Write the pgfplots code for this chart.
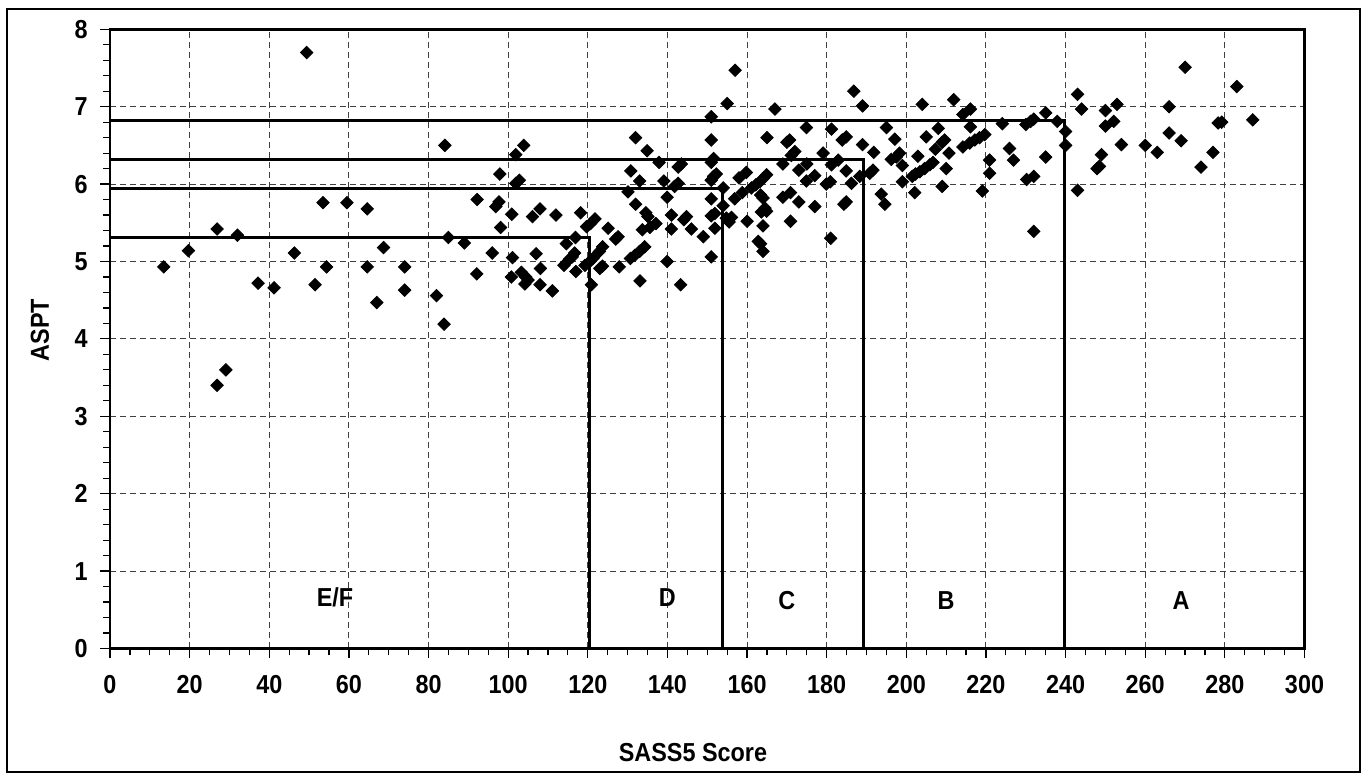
\documentclass[border=0pt]{standalone}
\usepackage{pgfplots}
\pgfplotsset{compat=1.18}
\usepackage{pgfplotstable}
\usepackage{fontspec}
\setmainfont{Liberation Sans}[FakeStretch=0.9]
\pgfplotstableread{
x y
13.5 4.93
19.7 5.14
26.9 5.42
26.9 3.40
29.1 3.60
32.0 5.34
37.2 4.72
41.2 4.66
46.3 5.11
49.4 7.70
51.5 4.70
53.5 5.76
54.4 4.93
59.5 5.76
64.6 5.68
64.6 4.93
67.0 4.47
68.7 5.18
74.0 4.93
74.0 4.63
82.0 4.56
83.9 4.19
84.1 6.50
85.0 5.31
89.0 5.24
92.1 4.84
92.2 5.80
96.0 5.11
96.9 5.71
97.7 5.77
97.9 6.13
98.1 5.44
100.9 5.61
101.1 5.05
100.8 4.80
101.9 6.38
101.9 6.01
102.8 6.05
103.9 6.50
103.3 4.86
104.4 4.80
105.0 4.76
104.2 4.71
106.1 5.58
107.0 5.10
108.0 5.68
108.1 4.91
108.0 4.70
111.1 4.62
112.0 5.60
114.0 4.95
114.6 5.23
115.4 5.03
116.1 5.06
116.7 5.11
116.9 5.31
117.0 4.87
118.2 5.63
119.3 4.95
119.7 5.45
120.5 5.00
120.7 5.49
120.9 4.70
121.3 5.04
121.8 5.55
122.9 5.13
123.7 5.19
123.0 4.91
123.7 4.94
125.1 5.43
127.0 5.29
127.6 5.32
127.9 4.93
130.1 5.90
130.7 5.04
130.8 6.17
131.8 5.08
132.0 6.60
132.0 5.74
133.0 6.04
133.0 5.13
133.1 4.75
133.7 5.41
134.3 5.19
134.6 5.63
134.9 6.43
135.1 5.58
135.6 5.44
137.1 5.49
137.9 6.28
139.1 6.04
139.9 5.83
139.9 5.00
141.0 5.60
141.0 5.42
141.8 5.97
142.7 6.01
142.7 6.22
143.5 6.26
143.3 4.70
144.1 5.54
144.8 5.58
146.0 5.42
149.0 5.32
151.0 6.87
151.0 6.57
151.0 6.28
151.6 6.33
151.0 6.05
151.6 6.10
152.3 6.13
151.0 5.81
151.0 5.59
151.9 5.62
151.9 5.43
151.0 5.06
154.0 5.95
154.0 5.72
154.8 5.56
155.0 7.04
156.9 5.81
156.1 5.57
155.5 5.51
157.0 7.47
158.0 6.08
158.8 5.89
159.8 6.15
160.0 5.52
161.1 5.95
162.2 5.99
163.2 6.03
164.0 6.07
164.9 6.12
163.4 5.86
164.0 5.82
164.5 5.69
164.9 5.65
163.6 5.64
164.0 5.46
162.8 5.26
163.4 5.23
164.0 5.13
165.0 6.60
167.0 6.97
169.0 6.26
169.0 5.83
170.0 6.54
170.7 6.57
170.9 5.89
170.9 5.52
171.1 6.37
172.0 6.42
173.0 6.18
173.0 5.77
174.9 6.73
175.0 6.26
174.9 6.04
177.0 6.11
177.0 5.71
179.1 6.40
179.9 6.00
180.9 6.03
181.2 6.71
181.2 6.25
181.0 5.30
182.9 6.31
183.9 6.57
184.9 6.61
184.9 6.17
184.9 5.77
184.3 5.74
186.2 6.01
186.8 7.20
188.3 6.10
189.0 7.01
189.0 6.51
190.8 6.14
191.6 6.18
191.8 6.41
193.7 5.87
194.6 5.74
195.0 6.73
196.2 6.32
197.1 6.58
197.5 6.35
198.3 6.40
199.0 6.24
199.0 6.03
201.5 6.10
202.1 5.89
202.3 6.13
202.9 6.36
203.4 6.16
204.0 7.03
204.6 6.20
205.0 6.61
205.9 6.25
206.7 6.28
207.3 6.45
208.0 6.72
209.0 6.54
209.6 6.57
209.0 5.97
210.0 6.20
210.7 6.40
211.9 7.09
214.2 6.90
214.2 6.48
215.9 6.53
216.1 6.97
216.1 6.74
217.2 6.57
218.4 6.60
219.7 6.64
219.1 5.91
220.9 6.31
220.9 6.14
224.1 6.78
225.9 6.46
226.9 6.31
230.0 6.77
230.2 6.06
231.2 6.81
232.0 6.84
232.0 6.10
232.0 5.39
235.0 6.92
235.0 6.35
237.9 6.81
240.0 6.68
240.0 6.50
243.0 7.16
243.0 5.92
244.0 6.97
247.9 6.20
248.5 6.23
249.0 6.38
250.0 6.95
250.0 6.75
252.1 6.81
252.9 7.03
254.0 6.51
260.0 6.50
263.0 6.41
266.0 7.00
266.0 6.66
269.0 6.56
270.0 7.51
274.0 6.22
277.0 6.41
278.3 6.79
279.2 6.80
283.0 7.26
287.0 6.83
}\scatterdata
\begin{document}
\begin{tikzpicture}
\begin{axis}[
  scale only axis,
  width=597.25pt, height=309.6pt,
  xmin=0, xmax=300, ymin=0, ymax=8,
  xtick={0,20,...,300}, ytick={0,1,...,8},
  minor x tick num=3, minor y tick num=4,
  xtick pos=bottom, ytick pos=left,
  tick align=outside,
  major tick length=5pt, minor tick length=3.5pt,
  every tick/.style={black, line width=0.6pt},
  axis line style={line width=1.3pt},
  grid=major,
  major grid style={dash pattern=on 3pt off 2pt, black!75, line width=0.5pt},
  /pgf/number format/assume math mode=true,
  ticklabel style={font=\fontsize{13}{15}\selectfont\bfseries},
  xticklabel style={anchor=north, inner sep=0pt, yshift=-8pt},
  yticklabel style={anchor=east, inner sep=0pt, xshift=-6pt},
  xlabel={\bfseries SASS5 Score},
  ylabel={\bfseries ASPT},
  label style={font=\fontsize{13}{15}\selectfont},
  xlabel style={at={(axis description cs:0.488,-0.1688)}, anchor=center},
  ylabel style={at={(axis description cs:-0.0586,0.514)}, anchor=center, rotate=0},
  clip=false,
]
\addplot[black, line width=1.5pt, no marks] coordinates {(0,5.31) (120.3,5.31) (120.3,0)};
\addplot[black, line width=1.5pt, no marks] coordinates {(0,5.94) (153.9,5.94) (153.9,0)};
\addplot[black, line width=1.5pt, no marks] coordinates {(0,6.32) (189.3,6.32) (189.3,0)};
\addplot[black, line width=1.5pt, no marks] coordinates {(0,6.82) (239.8,6.82) (239.8,0)};
\addplot[only marks, mark=square*, mark size=2.2pt, mark options={rotate=45, fill=black, draw=black}] table[x=x,y=y] {\scatterdata};
\node[font=\fontsize{13}{15}\selectfont\bfseries] at (axis cs:56.5,0.66) {E/F};
\node[font=\fontsize{13}{15}\selectfont\bfseries] at (axis cs:140,0.66) {D};
\node[font=\fontsize{13}{15}\selectfont\bfseries] at (axis cs:170,0.62) {C};
\node[font=\fontsize{13}{15}\selectfont\bfseries] at (axis cs:210,0.62) {B};
\node[font=\fontsize{13}{15}\selectfont\bfseries] at (axis cs:269,0.62) {A};
\end{axis}
\draw[line width=1pt] (-51.65pt,-61.75pt) rectangle (625pt,319.6pt);
\useasboundingbox (-55pt,-62.75pt) rectangle (626.5pt,324.25pt);
\end{tikzpicture}
\end{document}
